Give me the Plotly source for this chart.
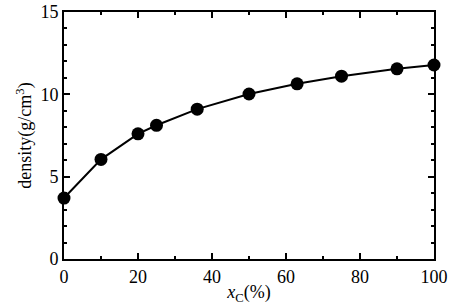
import plotly.graph_objects as go

x_c = [0, 10, 20, 25, 36, 50, 63, 75, 90, 100]
density = [3.7, 6.05, 7.6, 8.12, 9.1, 10.02, 10.64, 11.1, 11.55, 11.78]

x_ticks = [0, 20, 40, 60, 80, 100]
y_ticks = [0, 5, 10, 15]

FONT = "Liberation Serif, DejaVu Serif, serif"

fig = go.Figure()
fig.add_trace(go.Scatter(
    x=x_c, y=density, mode="lines+markers",
    line=dict(color="black", width=2),
    marker=dict(color="black", size=13),
    cliponaxis=False, showlegend=False,
))

axis_common = dict(
    showgrid=False, zeroline=False, showline=True, linecolor="black", linewidth=2,
    mirror="allticks", ticks="inside", ticklen=6, tickwidth=1.5, tickcolor="black",
    tickfont=dict(family=FONT, size=18, color="black"), automargin=False,
    ticklabeloverflow="allow",
)
fig.update_xaxes(
    range=[0, 100], tickvals=x_ticks, ticktext=[str(v) for v in x_ticks],
    minor=dict(dtick=10, ticks="inside", ticklen=3, tickwidth=1.5, tickcolor="black"),
    title=dict(text="<i>x</i><sub>C</sub>(%)", font=dict(family=FONT, size=18, color="black"), standoff=0),
    **axis_common,
)
fig.update_yaxes(
    range=[0, 15], tickvals=y_ticks, ticktext=[str(v) for v in y_ticks],
    minor=dict(dtick=1, ticks="inside", ticklen=3, tickwidth=1.5, tickcolor="black"),
    title=dict(text="density(g/cm<sup>3</sup>)", font=dict(family=FONT, size=18, color="black"), standoff=4),
    **axis_common,
)
fig.update_layout(
    width=463, height=306,
    margin=dict(l=64, r=29, t=12, b=47),
    paper_bgcolor="white", plot_bgcolor="white",
)
fig.write_html("out.html", config={"displayModeBar": False},
               post_script="document.body.style.margin='0';document.body.style.overflow='hidden';")
